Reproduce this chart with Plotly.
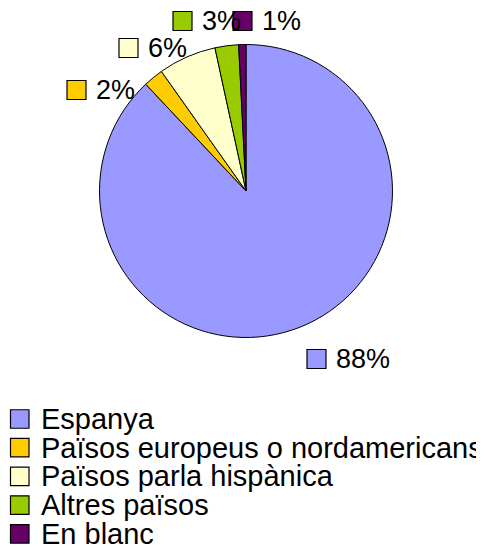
import plotly.graph_objects as go

# ---- data ----
categories = ["Espanya", "Països europeus o nordamericans", "Països parla hispànica",
              "Altres països", "En blanc"]
values = [88.0, 2.2, 6.4, 2.6, 0.8]
colors = ["#9999FF", "#FFCC00", "#FFFFCC", "#99CC00", "#660066"]

W, H = 484, 547
OFF = 8  # default page body margin
FW, FH = W - OFF, H - OFF
FONT = "Liberation Sans, Arial, sans-serif"
FS_LAB = 27
FS_LEG = 29


def X(px):
    return (px - OFF) / FW


def Y(py):
    return 1 - (py - OFF) / FH


# pie geometry (page pixels)
cx, cy, r = 246, 191, 146.5

fig = go.Figure(go.Pie(
    labels=categories,
    values=values,
    sort=False,
    direction="clockwise",
    rotation=0,
    marker=dict(colors=colors, line=dict(color="black", width=1)),
    textinfo="none",
    hoverinfo="label+percent",
    domain=dict(x=[X(cx - r), X(cx + r)], y=[Y(cy + r), Y(cy - r)]),
    showlegend=False,
))

total = sum(values)
pct_text = [f"{round(v / total * 100)}%" for v in values]

# data-label layout positions (square left x, centre y) in page pixels
label_pos = [(307, 359), (67, 90), (119, 48), (173, 21), (233, 21)]
SQ = 19

shapes = []
annotations = []
for (lx, ly), txt, col in zip(label_pos, pct_text, colors):
    shapes.append(dict(type="rect", xref="paper", yref="paper",
                       x0=X(lx), x1=X(lx + SQ), y0=Y(ly + SQ / 2), y1=Y(ly - SQ / 2),
                       fillcolor=col, line=dict(color="black", width=1.2), layer="above"))
    annotations.append(dict(xref="paper", yref="paper", x=X(lx + 27), y=Y(ly),
                            xanchor="left", yanchor="middle", showarrow=False,
                            text=txt, font=dict(family=FONT, size=FS_LAB, color="black")))

# legend (drawn manually to match tight line spacing)
leg_x, leg_y0, leg_dy = 10.5, 419, 28.7
for i, (cat, col) in enumerate(zip(categories, colors)):
    yy = leg_y0 + i * leg_dy
    shapes.append(dict(type="rect", xref="paper", yref="paper",
                       x0=X(leg_x), x1=X(leg_x + 18.5), y0=Y(yy + 9.25), y1=Y(yy - 9.25),
                       fillcolor=col, line=dict(color="black", width=1.2), layer="above"))
    annotations.append(dict(xref="paper", yref="paper", x=X(38.5), y=Y(yy),
                            xanchor="left", yanchor="middle", showarrow=False,
                            text=cat, font=dict(family=FONT, size=FS_LEG, color="black")))

fig.update_layout(
    width=FW, height=FH,
    margin=dict(l=0, r=0, t=0, b=0),
    paper_bgcolor="white", plot_bgcolor="white",
    shapes=shapes, annotations=annotations,
    font=dict(family=FONT, size=FS_LAB, color="black"),
)

fig.write_html("out.html")
